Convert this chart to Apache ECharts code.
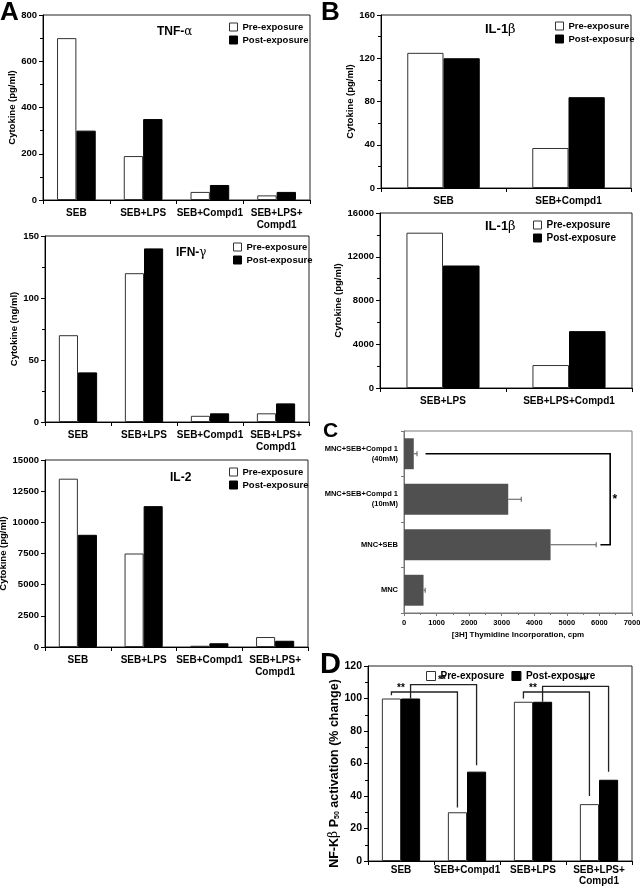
<!DOCTYPE html>
<html><head><meta charset="utf-8">
<script src="https://cdn.jsdelivr.net/npm/echarts@6/dist/echarts.min.js"></script>
<style>html,body{margin:0;padding:0;background:#fff}#c{width:640px;height:888px}</style>
</head><body><div id="c"></div>
<script>
// ---------- data ----------
const catsA = ['SEB', 'SEB+LPS', 'SEB+Compd1', 'SEB+LPS+\nCompd1'];
const tnfPre = [700, 190, 35, 20];
const tnfPost = [300, 350, 65, 35];
const ifnPre = [70, 120, 5, 7];
const ifnPost = [40, 140, 7, 15];
const il2Pre = [13500, 7500, 100, 800];
const il2Post = [9000, 11300, 300, 500];
const catsB1 = ['SEB', 'SEB+Compd1'];
const il1bPre1 = [125, 37];
const il1bPost1 = [120, 84];
const catsB2 = ['SEB+LPS', 'SEB+LPS+Compd1'];
const il1bPre2 = [14200, 2100];
const il1bPost2 = [11200, 5200];
const catsC = ['MNC', 'MNC+SEB', 'MNC+SEB+Compd 1\n(10mM)', 'MNC+SEB+Compd 1\n(40mM)'];
const thymidine = [600, 4500, 3200, 300];
const thymidineErr = [50, 1400, 400, 100];
const bracketC = [660, 6330, 6030, 3, 1];   // start x, vertical x, end x, from category, to category
const starC = [6470, 2];
const catsD = ['SEB', 'SEB+Compd1', 'SEB+LPS', 'SEB+LPS+\nCompd1'];
const nfkbPre = [100, 30, 98, 35];
const nfkbPost = [100, 55, 98, 50];
// [fromCat, fromSide(0 pre / 1 post), fromY, toCat, toSide, toY, levelY]
const bracketsD = [
  [0, 0, 102, 1, 0, 33, 104],
  [0, 1, 100, 1, 1, 59, 108.5],
  [2, 0, 100, 3, 0, 40, 104],
  [2, 1, 98, 3, 1, 55, 107.5]
];
// [cat, offset (fraction of band), y]
const starsD = [[0, 0, 106.5], [0, 0.62, 111], [2, 0, 106.5], [2, 0.76, 110.5]];

// ---------- helpers ----------
const FF = '"Liberation Sans", Arial, sans-serif';
const GAP = 0.42;
const plain = v => String(v);
const grids = [
  {left: 43, top: 15, width: 267, height: 185},   // A TNF
  {left: 45, top: 236, width: 264, height: 186},  // A IFN
  {left: 45, top: 460, width: 263, height: 187},  // A IL-2
  {left: 381, top: 15, width: 250, height: 173},  // B top
  {left: 380, top: 213, width: 252, height: 175}, // B bottom
  {left: 404, top: 431, width: 228, height: 182}, // C
  {left: 368, top: 666, width: 264, height: 195}  // D
].map(g => Object.assign({show: true, borderColor: '#222', borderWidth: 1, backgroundColor: 'transparent', containLabel: false, outerBoundsMode: 'none'}, g));
grids[5].borderColor = '#777';

function catAxis(gi, data, fs, extra) {
  return Object.assign({
    type: 'category', gridIndex: gi, data: data,
    axisLine: {show: true, lineStyle: {color: '#000', width: 1}},
    axisTick: {show: true, alignWithLabel: false, length: 4, lineStyle: {color: '#000'}},
    axisLabel: {interval: 0, margin: 7, color: '#000', fontFamily: FF, fontWeight: 'bold', fontSize: fs || 10, lineHeight: 12},
    splitLine: {show: false}
  }, extra || {});
}
function valAxis(gi, max, interval, name, nameGap, opts) {
  opts = opts || {};
  return {
    type: 'value', gridIndex: gi, min: 0, max: max, interval: interval,
    name: name, nameLocation: 'middle', nameGap: nameGap,
    nameTextStyle: Object.assign({color: '#000', fontFamily: FF, fontWeight: 'bold', fontSize: 9.5}, opts.nameStyle || {}),
    axisLine: {show: true, lineStyle: {color: '#000', width: 1}},
    axisTick: {show: true, length: 4, lineStyle: {color: '#000'}},
    minorTick: {show: opts.minor !== false, splitNumber: 2, length: 3, lineStyle: {color: '#000'}},
    axisLabel: {color: '#000', fontFamily: FF, fontWeight: 'bold', fontSize: opts.fs || 9.5, margin: 6, formatter: plain},
    splitLine: {show: false}, minorSplitLine: {show: false}
  };
}
function barPair(gi, pre, post) {
  return [
    {name: 'Pre-exposure', type: 'bar', xAxisIndex: gi, yAxisIndex: gi, data: pre, barGap: '0%', barCategoryGap: (GAP * 100) + '%',
     itemStyle: {color: '#fff', borderColor: '#333', borderWidth: 1}, emphasis: {disabled: true}},
    {name: 'Post-exposure', type: 'bar', xAxisIndex: gi, yAxisIndex: gi, data: post, barGap: '0%', barCategoryGap: (GAP * 100) + '%',
     itemStyle: {color: '#000', borderColor: '#000', borderWidth: 1}, emphasis: {disabled: true}}
  ];
}
function legendAt(left, top, fs, orient, gap, icon) {
  icon = icon || 8;
  return {left: left, top: top, orient: orient || 'vertical', padding: 0, itemGap: gap === undefined ? 3 : gap,
    itemWidth: icon, itemHeight: icon, icon: 'rect', selectedMode: false,
    itemStyle: {borderWidth: 1},
    textStyle: {color: '#000', fontFamily: FF, fontWeight: 'bold', fontSize: fs},
    data: ['Pre-exposure', 'Post-exposure']};
}
function greekTitle(latin, greek, left, top, fs) {
  return {text: '{a|' + latin + '}' + (greek ? '{b|' + greek + '}' : ''), left: left, top: top, padding: 0,
    textStyle: {rich: {
      a: {fontFamily: FF, fontWeight: 'bold', fontSize: fs, color: '#000'},
      b: {fontFamily: '"DejaVu Serif", "Liberation Serif", serif', fontWeight: 'normal', fontSize: fs, color: '#000'}
    }}};
}
const txt = {fontFamily: FF, fontWeight: 'bold', fill: '#000'};

const xAxes = [
  catAxis(0, catsA), catAxis(1, catsA), catAxis(2, catsA),
  catAxis(3, catsB1, 10), catAxis(4, catsB2, 10),
  {type: 'value', gridIndex: 5, min: 0, max: 7000, interval: 1000,
   name: '[3H] Thymidine Incorporation, cpm', nameLocation: 'middle', nameGap: 18,
   nameTextStyle: {color: '#000', fontFamily: FF, fontSize: 8, fontWeight: 'bold'},
   axisLine: {show: true, lineStyle: {color: '#777'}},
   axisTick: {show: true, length: 3, lineStyle: {color: '#777'}},
   minorTick: {show: true, splitNumber: 2, length: 2, lineStyle: {color: '#777'}},
   axisLabel: {color: '#000', fontFamily: FF, fontWeight: 'bold', fontSize: 7.5, margin: 6, formatter: plain},
   splitLine: {show: false}},
  catAxis(6, catsD, 10, {axisLabel: {interval: 0, margin: 4, color: '#000', fontFamily: FF, fontWeight: 'bold', fontSize: 10, lineHeight: 10.5}})
];
const yAxes = [
  valAxis(0, 800, 200, 'Cytokine (pg/ml)', 26),
  valAxis(1, 150, 50, 'Cytokine (ng/ml)', 23),
  valAxis(2, 15000, 2500, 'Cytokine (pg/ml)', 34, {minor: false}),
  valAxis(3, 160, 40, 'Cytokine (pg/ml)', 25),
  valAxis(4, 16000, 4000, 'Cytokine (pg/ml)', 34),
  {type: 'category', gridIndex: 5, data: catsC,
   axisLine: {show: true, lineStyle: {color: '#777'}},
   axisTick: {show: true, length: 3, lineStyle: {color: '#777'}},
   axisLabel: {color: '#000', fontFamily: FF, fontWeight: 'bold', fontSize: 7.5, lineHeight: 10, margin: 6, align: 'right'}},
  Object.assign(valAxis(6, 120, 20, '{b|NF-K}{g|β}{b| P}{s|50}{b| activation (% change)}', 22, {fs: 10.5}), {
    nameTextStyle: {color: '#000', padding: [0, 0, 0, -20], rich: {
      b: {fontFamily: FF, fontWeight: 'bold', fontSize: 12.5, color: '#000'},
      g: {fontFamily: '"DejaVu Serif", serif', fontSize: 12.5, color: '#000'},
      s: {fontFamily: FF, fontWeight: 'bold', fontSize: 7, color: '#000', verticalAlign: 'bottom', padding: [6, 0, 0, 0]}
    }}
  })
];

const series = [].concat(
  barPair(0, tnfPre, tnfPost),
  barPair(1, ifnPre, ifnPost),
  barPair(2, il2Pre, il2Post),
  barPair(3, il1bPre1, il1bPost1),
  barPair(4, il1bPre2, il1bPost2),
  [{name: 'thymidine', type: 'bar', xAxisIndex: 5, yAxisIndex: 5, data: thymidine, barCategoryGap: '32%',
    itemStyle: {color: '#505050'}, emphasis: {disabled: true}},
   {name: 'thymidineErr', type: 'custom', xAxisIndex: 5, yAxisIndex: 5, z: 5,
    data: thymidine.map((v, i) => [v, v + thymidineErr[i], i]),
    encode: {x: [0, 1], y: 2},
    renderItem: function (params, api) {
      const a = api.coord([api.value(0), api.value(2)]);
      const b = api.coord([api.value(1), api.value(2)]);
      return {type: 'group', children: [
        {type: 'line', shape: {x1: a[0], y1: a[1], x2: b[0], y2: b[1]}, style: {stroke: '#555', lineWidth: 1}},
        {type: 'line', shape: {x1: b[0], y1: b[1] - 2.5, x2: b[0], y2: b[1] + 2.5}, style: {stroke: '#555', lineWidth: 1}}
      ]};
    }},
   {name: 'bracketC', type: 'custom', xAxisIndex: 5, yAxisIndex: 5, z: 6,
    data: [[bracketC[1], bracketC[3]]], encode: {x: 0, y: 1},
    renderItem: function (params, api) {
      const a = api.coord([bracketC[0], bracketC[3]]);
      const b = api.coord([bracketC[1], bracketC[3]]);
      const c = api.coord([bracketC[1], bracketC[4]]);
      const d = api.coord([bracketC[2], bracketC[4]]);
      const s = api.coord(starC);
      return {type: 'group', children: [
        {type: 'polyline', shape: {points: [a, b, c, d]}, style: {stroke: '#000', lineWidth: 1.6, fill: null}},
        {type: 'text', x: s[0], y: s[1], style: Object.assign({text: '*', fontSize: 12, align: 'center', verticalAlign: 'middle'}, txt)}
      ]};
    }}],
  barPair(6, nfkbPre, nfkbPost),
  [{name: 'bracketsD', type: 'custom', xAxisIndex: 6, yAxisIndex: 6, z: 6,
    data: bracketsD, encode: {x: [0, 3], y: [2, 5, 6]},
    renderItem: function (params, api) {
      const band = api.size([1, 0])[0];
      const off = band * (1 - GAP) / 4;
      const r = bracketsD[params.dataIndex];
      const xf = api.coord([r[0], 0])[0] + (r[1] ? off : -off);
      const xt = api.coord([r[3], 0])[0] + (r[4] ? off : -off);
      const yf = api.coord([r[0], r[2]])[1];
      const yl = api.coord([r[0], r[6]])[1];
      const yt = api.coord([r[3], r[5]])[1];
      return {type: 'polyline', shape: {points: [[xf, yf], [xf, yl], [xt, yl], [xt, yt]]},
        style: {stroke: '#222', lineWidth: 1.3, fill: null}};
    }},
   {name: 'starsD', type: 'custom', xAxisIndex: 6, yAxisIndex: 6, z: 6,
    data: starsD, encode: {x: 0, y: 2},
    renderItem: function (params, api) {
      const band = api.size([1, 0])[0];
      const r = starsD[params.dataIndex];
      const p = api.coord([r[0], r[2]]);
      return {type: 'text', x: p[0] + r[1] * band, y: p[1],
        style: Object.assign({text: '**', fontSize: 10, align: 'center', verticalAlign: 'middle'}, txt)};
    }}]
);

const option = {
  animation: false,
  backgroundColor: '#fff',
  grid: grids,
  xAxis: xAxes,
  yAxis: yAxes,
  legend: [
    legendAt(229, 22, 9.5),
    legendAt(233, 242, 9.5),
    legendAt(229, 467, 9.5),
    legendAt(555, 21, 9.5),
    legendAt(533, 220, 10),
    legendAt(426, 671, 10, 'horizontal', 7, 9)
  ],
  title: [
    greekTitle('TNF-', 'α', 157, 26, 12),
    greekTitle('IFN-', 'γ', 176, 247, 12),
    greekTitle('IL-2', '', 170, 472, 12),
    greekTitle('IL-1', 'β', 485, 23, 13),
    greekTitle('IL-1', 'β', 485, 220, 13)
  ],
  graphic: [
    {type: 'text', left: 0, top: 0, style: Object.assign({text: 'A', fontSize: 26}, txt)},
    {type: 'text', left: 321, top: 0, style: Object.assign({text: 'B', fontSize: 26}, txt)},
    {type: 'text', left: 323, top: 421, style: Object.assign({text: 'C', fontSize: 21}, txt)},
    {type: 'text', left: 320, top: 650, style: Object.assign({text: 'D', fontSize: 29}, txt)}
  ],
  series: series
};
const chart = echarts.init(document.getElementById('c'), null, {renderer: 'canvas'});
chart.setOption(option);
</script></body></html>
